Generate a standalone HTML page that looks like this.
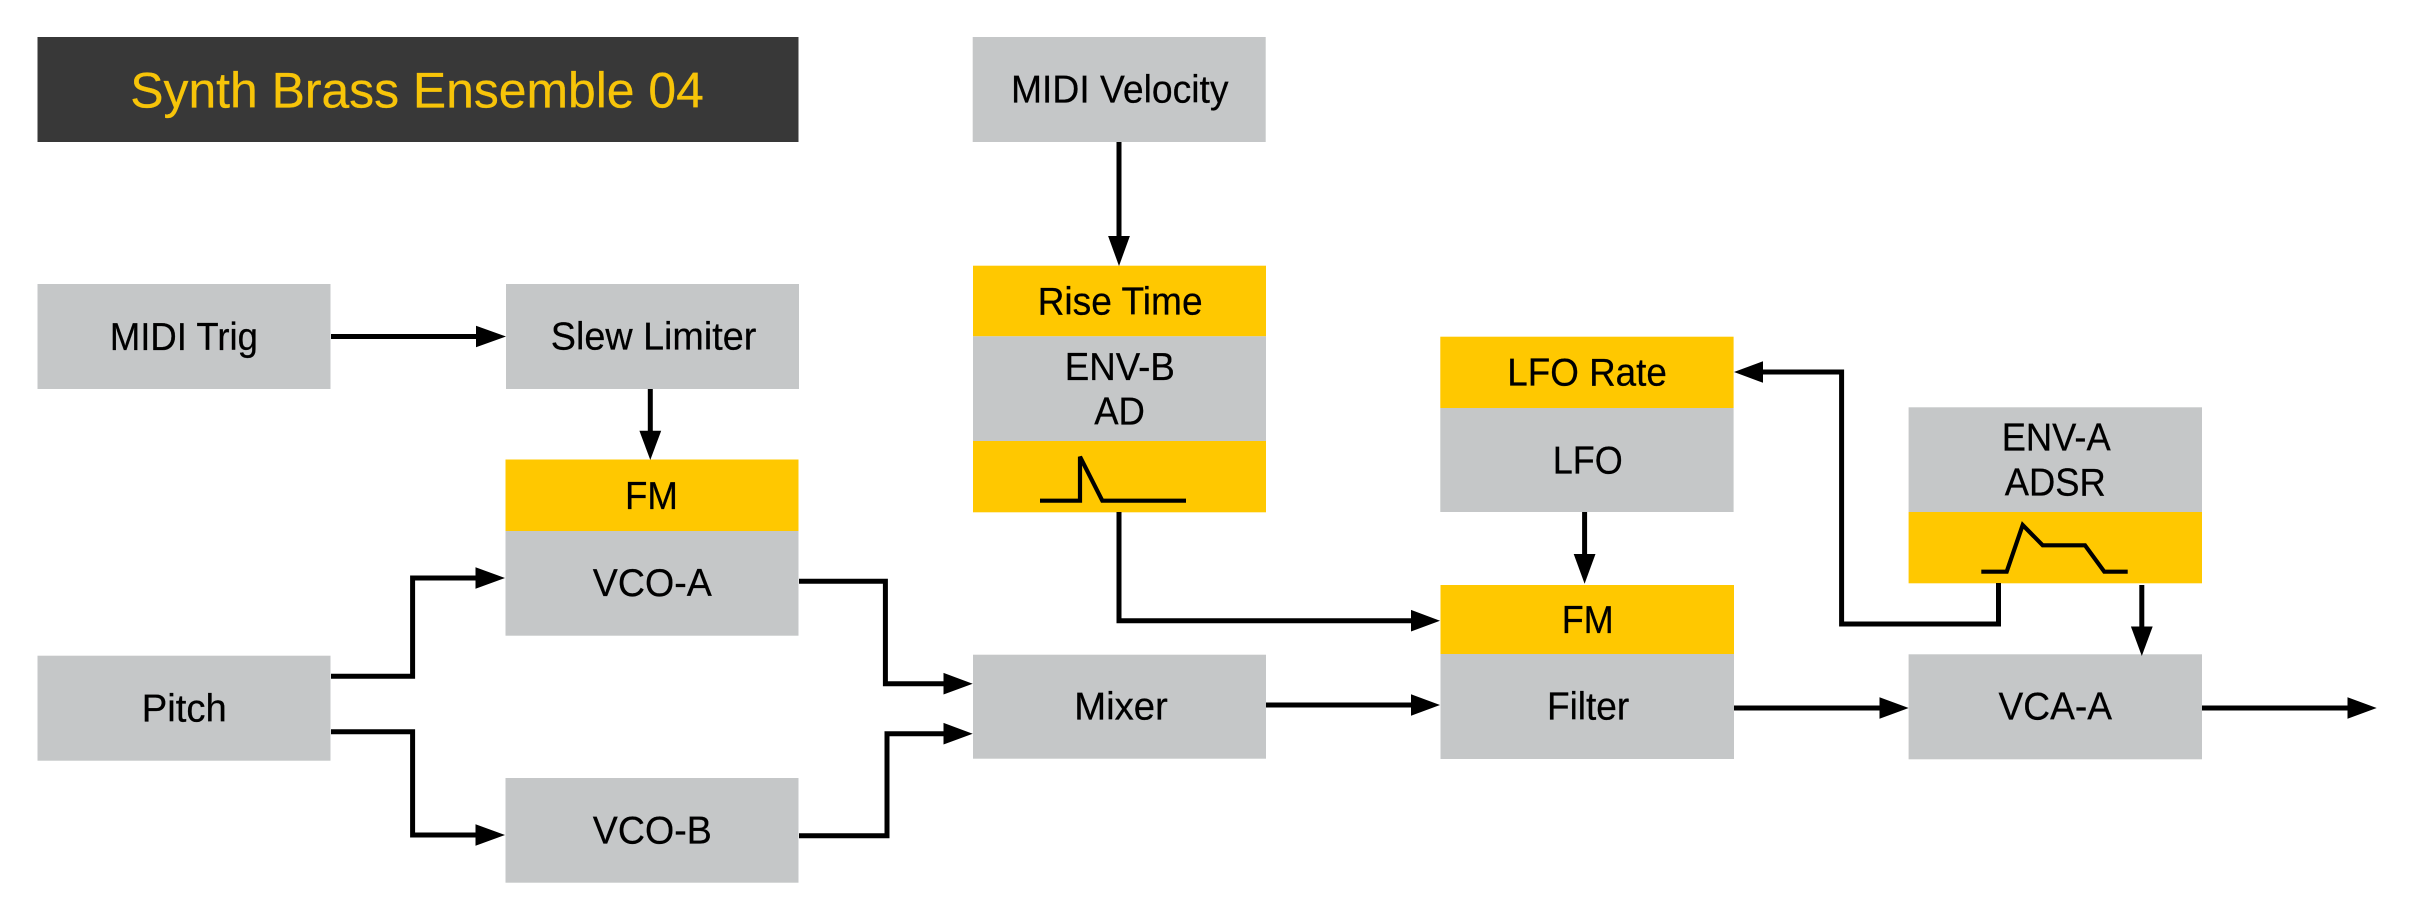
<!DOCTYPE html>
<html>
<head>
<meta charset="utf-8">
<style>
html,body{margin:0;padding:0;background:#fff;width:2419px;height:919px;overflow:hidden}
svg{display:block}
text{font-family:"Liberation Sans",sans-serif;font-size:38.5px;fill:#000;stroke:#000;stroke-width:.25}
.g{fill:#c5c7c8}
.y{fill:#ffc800}
.l{fill:none;stroke:#000;stroke-width:5;stroke-linejoin:miter}
.c{fill:none;stroke:#000;stroke-width:4.2;stroke-linejoin:miter}
</style>
</head>
<body>
<svg width="2419" height="919" viewBox="0 0 2419 919" xmlns="http://www.w3.org/2000/svg">
<rect width="2419" height="919" fill="#fff"/>

<!-- boxes -->
<rect x="37.5" y="37" width="761" height="105" fill="#383838"/>
<rect class="g" x="37.5" y="284" width="293" height="105"/>
<rect class="g" x="506" y="284" width="293" height="105"/>
<rect class="y" x="505.5" y="459.5" width="293" height="71.5"/>
<rect class="g" x="505.5" y="531" width="293" height="104.7"/>
<rect class="g" x="37.5" y="655.7" width="293" height="105"/>
<rect class="g" x="505.5" y="778" width="293" height="104.7"/>
<rect class="g" x="972.7" y="37" width="293" height="105"/>
<rect class="y" x="973" y="265.7" width="293" height="70.6"/>
<rect class="g" x="973" y="336.3" width="293" height="104.7"/>
<rect class="y" x="973" y="441" width="293" height="71.3"/>
<rect class="y" x="1440.3" y="336.7" width="293.3" height="71.3"/>
<rect class="g" x="1440.3" y="408" width="293.3" height="104"/>
<rect class="y" x="1440.5" y="585" width="293.5" height="69"/>
<rect class="g" x="1440.5" y="654" width="293.5" height="105"/>
<rect class="g" x="973" y="654.7" width="293" height="104"/>
<rect class="g" x="1908.6" y="407.3" width="293.4" height="104.7"/>
<rect class="y" x="1908.6" y="512" width="293.4" height="71.3"/>
<rect class="g" x="1908.6" y="654.3" width="293.4" height="105"/>

<!-- text -->
<text x="130.3" y="107.7" textLength="573.5" lengthAdjust="spacingAndGlyphs" style="font-size:50px;fill:#f7c409;stroke:#f7c409">Synth Brass Ensemble 04</text>
<text x="109.9" y="349.8" textLength="148" lengthAdjust="spacingAndGlyphs">MIDI Trig</text>
<text x="550.8" y="349.5" textLength="205.5" lengthAdjust="spacingAndGlyphs">Slew Limiter</text>
<text x="625" y="509" textLength="53" lengthAdjust="spacingAndGlyphs">FM</text>
<text x="592.8" y="596" textLength="119" lengthAdjust="spacingAndGlyphs">VCO-A</text>
<text x="141.8" y="721.7" textLength="85" lengthAdjust="spacingAndGlyphs">Pitch</text>
<text x="592.8" y="843.3" textLength="119" lengthAdjust="spacingAndGlyphs">VCO-B</text>
<text x="1011" y="102.7" textLength="217.5" lengthAdjust="spacingAndGlyphs">MIDI Velocity</text>
<text x="1037.6" y="314.7" textLength="165" lengthAdjust="spacingAndGlyphs">Rise Time</text>
<text x="1064.8" y="380" textLength="110" lengthAdjust="spacingAndGlyphs">ENV-B</text>
<text x="1094.2" y="424.3" textLength="50.7" lengthAdjust="spacingAndGlyphs">AD</text>
<text x="1507.3" y="385.3" textLength="159.5" lengthAdjust="spacingAndGlyphs">LFO Rate</text>
<text x="1552.8" y="473.7" textLength="70" lengthAdjust="spacingAndGlyphs">LFO</text>
<text x="1561.7" y="632.8" textLength="52" lengthAdjust="spacingAndGlyphs">FM</text>
<text x="1074.2" y="719.3" textLength="93.6" lengthAdjust="spacingAndGlyphs">Mixer</text>
<text x="1547" y="719.3" textLength="82.2" lengthAdjust="spacingAndGlyphs">Filter</text>
<text x="2001.7" y="450.7" textLength="109" lengthAdjust="spacingAndGlyphs">ENV-A</text>
<text x="2004.8" y="495.3" textLength="101" lengthAdjust="spacingAndGlyphs">ADSR</text>
<text x="1998.5" y="719.3" textLength="113.5" lengthAdjust="spacingAndGlyphs">VCA-A</text>

<!-- envelope curves -->
<polyline class="c" points="1040,500.7 1080,500.7 1080,456.7 1102.3,500.7 1186,500.7"/>
<polyline class="c" points="1981.3,571.7 2006.7,571.7 2022.7,525 2042.7,545.3 2085,545.3 2104.3,571.7 2127.7,571.7"/>

<!-- connector lines -->
<polyline class="l" points="331,336.5 480,336.5"/>
<polyline class="l" points="650.3,389 650.3,435"/>
<polyline class="l" points="331,676.3 412.6,676.3 412.6,578 480,578"/>
<polyline class="l" points="331,731.7 412.6,731.7 412.6,835 480,835"/>
<polyline class="l" points="799,581.3 885.4,581.3 885.4,683.7 948,683.7"/>
<polyline class="l" points="799,835.7 887,835.7 887,733.7 948,733.7"/>
<polyline class="l" points="1119,142 1119,240"/>
<polyline class="l" points="1119,512 1119,620.7 1415,620.7"/>
<polyline class="l" points="1266,705 1415,705"/>
<polyline class="l" points="1584.6,512 1584.6,558"/>
<polyline class="l" points="1998.5,583 1998.5,624 1841.6,624 1841.6,372 1759,372"/>
<polyline class="l" points="2141.8,585 2141.8,630"/>
<polyline class="l" points="1734,708 1884,708"/>
<polyline class="l" points="2202,708 2352,708"/>

<!-- arrowheads -->
<g fill="#000">
<polygon points="506,336.5 476,325.7 476,347.3"/>
<polygon points="650.3,460 639.4,430.7 661.2,430.7"/>
<polygon points="505,578 475.5,567.2 475.5,588.8"/>
<polygon points="505,835 475.5,824.2 475.5,845.8"/>
<polygon points="972.7,683.7 943.5,672.9 943.5,694.5"/>
<polygon points="972.7,733.7 943.5,722.9 943.5,744.5"/>
<polygon points="1119,266 1108.1,236 1129.9,236"/>
<polygon points="1440,620.7 1411,609.9 1411,631.5"/>
<polygon points="1440,705 1411,694.2 1411,715.8"/>
<polygon points="1584.6,583.8 1573.7,554 1595.5,554"/>
<polygon points="1734,372 1763,361.2 1763,382.8"/>
<polygon points="2141.8,656 2130.9,626.5 2152.7,626.5"/>
<polygon points="1908.6,708 1879.5,697.2 1879.5,718.8"/>
<polygon points="2376.7,708 2347.5,697.2 2347.5,718.8"/>
</g>
</svg>
</body>
</html>
